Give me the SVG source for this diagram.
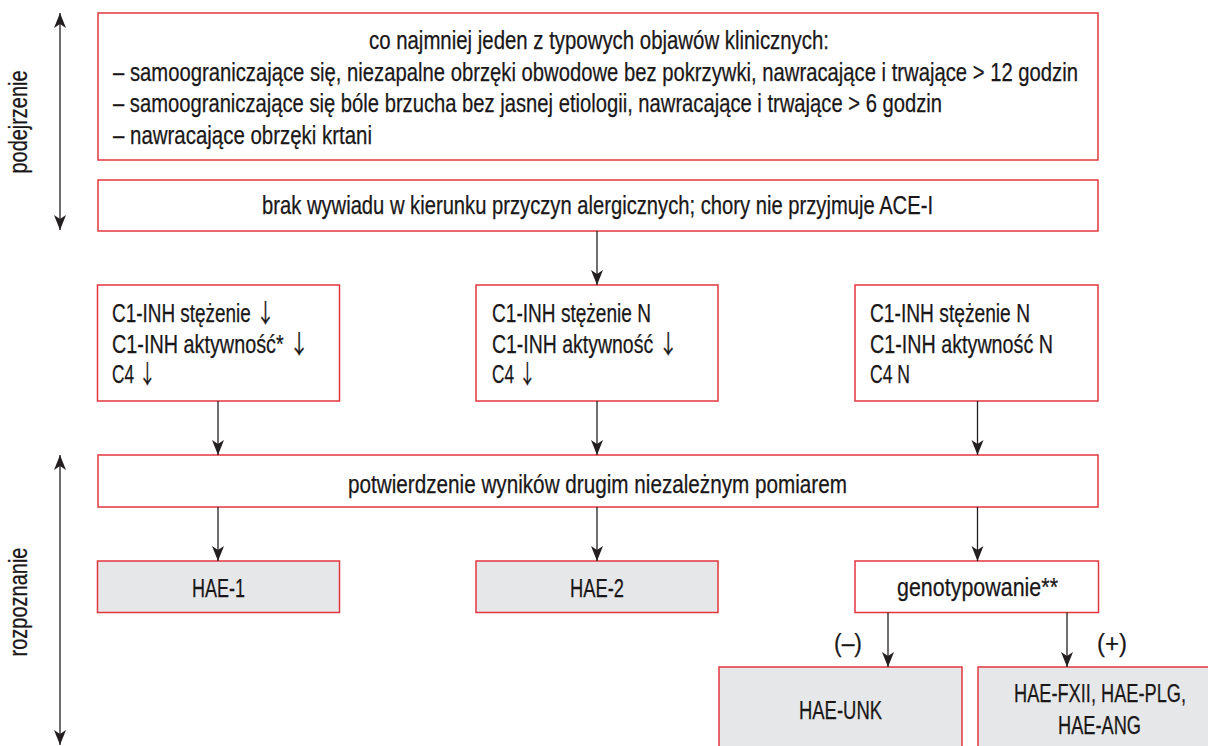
<svg xmlns="http://www.w3.org/2000/svg" width="1208" height="746" viewBox="0 0 1208 746">
<style>
  .box { fill: #ffffff; stroke: #e2363e; stroke-width: 1.5; }
  .res { fill: #e6e7e8; stroke: #e2363e; stroke-width: 1.5; }
  text { font-family: "Liberation Sans", "Noto Sans CJK SC", "DejaVu Sans", sans-serif; font-size: 25.5px; fill: #1a1718; stroke: #1a1718; stroke-width: 0.25; }
  .c { text-anchor: middle; }
  .ar { font-family: "Noto Sans CJK SC", "DejaVu Sans", sans-serif; }
  .conn line { stroke: #231f20; stroke-width: 1.3; fill: none; }
</style>
<defs>
  <marker id="ah" viewBox="-16 -7 17 14" refX="0" refY="0" markerWidth="17" markerHeight="14" markerUnits="userSpaceOnUse" orient="auto-start-reverse">
    <path d="M0,0 L-15,-6 L-11,0 L-15,6 Z" fill="#231f20"/>
  </marker>
</defs>

<g id="side-podejrzenie">
  <line x1="60" y1="13" x2="60" y2="230" stroke="#231f20" stroke-width="1.3" marker-start="url(#ah)" marker-end="url(#ah)"/>
  <text class="c" transform="translate(27,122) rotate(-90)" textLength="103" lengthAdjust="spacingAndGlyphs">podejrzenie</text>
</g>
<g id="side-rozpoznanie">
  <line x1="60" y1="455" x2="60" y2="745" stroke="#231f20" stroke-width="1.3" marker-start="url(#ah)" marker-end="url(#ah)"/>
  <text class="c" transform="translate(27,602) rotate(-90)" textLength="109" lengthAdjust="spacingAndGlyphs">rozpoznanie</text>
</g>

<g id="n-objawy">
  <rect class="box" x="98" y="13" width="1000" height="147"/>
  <text class="c" x="599" y="49" textLength="460" lengthAdjust="spacingAndGlyphs">co najmniej jeden z typowych objawów klinicznych:</text>
  <text x="113" y="81" textLength="965" lengthAdjust="spacingAndGlyphs">– samoograniczające się, niezapalne obrzęki obwodowe bez pokrzywki, nawracające i trwające &gt; 12 godzin</text>
  <text x="113" y="112" textLength="829" lengthAdjust="spacingAndGlyphs">– samoograniczające się bóle brzucha bez jasnej etiologii, nawracające i trwające &gt; 6 godzin</text>
  <text x="113" y="144" textLength="259" lengthAdjust="spacingAndGlyphs">– nawracające obrzęki krtani</text>
</g>

<g id="n-wywiad">
  <rect class="box" x="98" y="180" width="1000" height="51"/>
  <text class="c" x="597.5" y="214" textLength="671" lengthAdjust="spacingAndGlyphs">brak wywiadu w kierunku przyczyn alergicznych; chory nie przyjmuje ACE-I</text>
</g>

<g id="n-lab1">
  <rect class="box" x="97.5" y="285" width="242" height="116"/>
  <text x="112" y="322" textLength="163" lengthAdjust="spacingAndGlyphs">C1-INH stężenie <tspan class="ar">↓</tspan></text>
  <text x="112" y="353" textLength="197" lengthAdjust="spacingAndGlyphs">C1-INH aktywność* <tspan class="ar">↓</tspan></text>
  <text x="112" y="383" textLength="44" lengthAdjust="spacingAndGlyphs">C4 <tspan class="ar">↓</tspan></text>
</g>
<g id="n-lab2">
  <rect class="box" x="476" y="285" width="242" height="116"/>
  <text x="492" y="322" textLength="159" lengthAdjust="spacingAndGlyphs">C1-INH stężenie N</text>
  <text x="492" y="353" textLength="186" lengthAdjust="spacingAndGlyphs">C1-INH aktywność <tspan class="ar">↓</tspan></text>
  <text x="492" y="383" textLength="44" lengthAdjust="spacingAndGlyphs">C4 <tspan class="ar">↓</tspan></text>
</g>
<g id="n-lab3">
  <rect class="box" x="855" y="285" width="243" height="116"/>
  <text x="870" y="322" textLength="160" lengthAdjust="spacingAndGlyphs">C1-INH stężenie N</text>
  <text x="870" y="353" textLength="183" lengthAdjust="spacingAndGlyphs">C1-INH aktywność N</text>
  <text x="870" y="383" textLength="40" lengthAdjust="spacingAndGlyphs">C4 N</text>
</g>

<g id="n-potwierdzenie">
  <rect class="box" x="98" y="455" width="1000" height="52"/>
  <text class="c" x="597.5" y="493" textLength="499" lengthAdjust="spacingAndGlyphs">potwierdzenie wyników drugim niezależnym pomiarem</text>
</g>

<g id="n-hae1">
  <rect class="res" x="97.5" y="561" width="242" height="51.5"/>
  <text class="c" x="218.5" y="597" textLength="53" lengthAdjust="spacingAndGlyphs">HAE-1</text>
</g>
<g id="n-hae2">
  <rect class="res" x="476" y="561" width="242" height="51.5"/>
  <text class="c" x="597" y="597" textLength="54" lengthAdjust="spacingAndGlyphs">HAE-2</text>
</g>
<g id="n-genotyp">
  <rect class="box" x="855" y="561" width="243.5" height="51.5"/>
  <text class="c" x="977.5" y="596" textLength="161" lengthAdjust="spacingAndGlyphs">genotypowanie**</text>
</g>
<g id="n-haeunk">
  <rect class="res" x="719" y="667" width="243" height="95"/>
  <text class="c" x="840.5" y="719" textLength="83" lengthAdjust="spacingAndGlyphs">HAE-UNK</text>
</g>
<g id="n-haefxii">
  <rect class="res" x="978" y="667" width="244" height="95"/>
  <text class="c" x="1100" y="702" textLength="172" lengthAdjust="spacingAndGlyphs">HAE-FXII, HAE-PLG,</text>
  <text class="c" x="1099.5" y="734" textLength="83" lengthAdjust="spacingAndGlyphs">HAE-ANG</text>
</g>

<g id="connectors" class="conn">
  <line x1="597" y1="231" x2="597" y2="285" marker-end="url(#ah)"/>
  <line x1="218" y1="401" x2="218" y2="455" marker-end="url(#ah)"/>
  <line x1="597" y1="401" x2="597" y2="455" marker-end="url(#ah)"/>
  <line x1="977.5" y1="401" x2="977.5" y2="455" marker-end="url(#ah)"/>
  <line x1="218" y1="507" x2="218" y2="561" marker-end="url(#ah)"/>
  <line x1="597" y1="507" x2="597" y2="561" marker-end="url(#ah)"/>
  <line x1="977.5" y1="507" x2="977.5" y2="561" marker-end="url(#ah)"/>
  <line x1="888" y1="612.5" x2="888" y2="667" marker-end="url(#ah)"/>
  <line x1="1067" y1="612.5" x2="1067" y2="667" marker-end="url(#ah)"/>
  <text x="834" y="652" textLength="28" lengthAdjust="spacingAndGlyphs">(–)</text>
  <text x="1097" y="652" textLength="30" lengthAdjust="spacingAndGlyphs">(+)</text>
</g>
</svg>
